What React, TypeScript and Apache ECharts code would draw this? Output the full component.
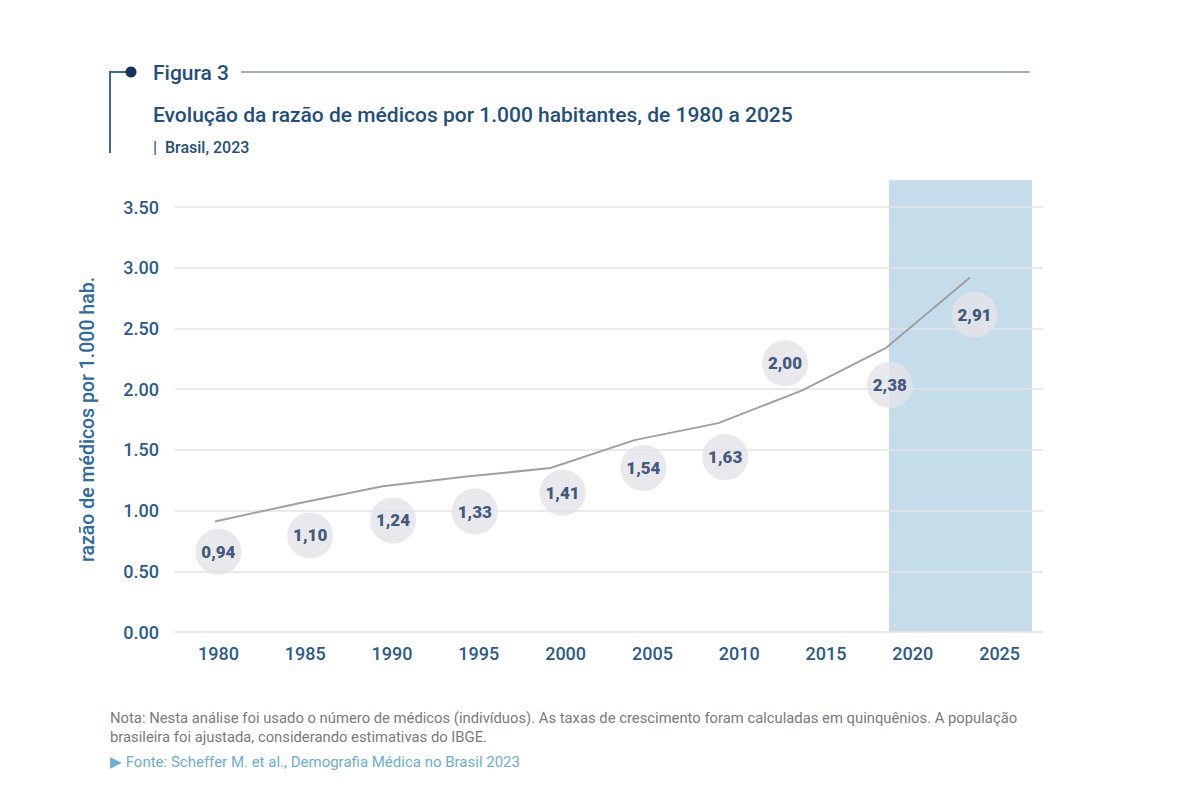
import React, { useEffect, useRef } from "react";
import * as echarts from "echarts";

const years = ["1980", "1985", "1990", "1995", "2000", "2005", "2010", "2015", "2020", "2025"];
// values printed in the bubbles
const ratios = [0.94, 1.1, 1.24, 1.33, 1.41, 1.54, 1.63, 2.0, 2.38, 2.91];
// values where the grey trend line is drawn in the figure
const lineValues = [0.91, 1.06, 1.2, 1.28, 1.35, 1.58, 1.72, 1.99, 2.34, 2.92];
const yTicks = [0, 0.5, 1, 1.5, 2, 2.5, 3, 3.5];
const projectionSpan = [2020.17, 2028.69, 3.72];

// label-bubble placement (pixel offsets from the data point), a layout detail
const bubbleOffsets: [number, number][] = [
  [0, 34], [5, 37], [1, 39], [-4, 41], [-3, 32], [-9, 23], [-14, 23], [-41, -26], [-23, 42], [-25, 36],
];

const FONT = "Roboto";
const NAVY = "#14335f";
const BLUE = "#2a5b8c";

export default function App() {
  const ref = useRef<HTMLDivElement>(null);
  useEffect(() => {
    document.body.style.margin = "0";
    const chart = echarts.init(ref.current!, null, { renderer: "svg" });
    const option: any = {
      animation: false,
      backgroundColor: "#ffffff",
      textStyle: { fontFamily: FONT },
      grid: { left: 175, right: 157, top: 207, bottom: 168, containLabel: false },
      xAxis: [
        {
          type: "category",
          data: years,
          boundaryGap: true,
          axisLine: { show: false },
          axisTick: { show: false },
          axisLabel: { color: BLUE, fontSize: 18, fontWeight: 500, margin: 12, fontFamily: FONT },
        },
        {
          type: "value",
          min: 1977.62,
          max: 2029.35,
          show: false,
          splitLine: { show: false },
        },
      ],
      yAxis: {
        type: "value",
        min: 0,
        max: 3.5,
        interval: 0.5,
        name: "razão de médicos por 1.000 hab.",
        nameLocation: "middle",
        nameGap: 78,
        nameTextStyle: { color: "#2c6aa0", fontSize: 19.5, fontWeight: 500, fontFamily: FONT },
        axisLine: { show: false },
        axisTick: { show: false },
        axisLabel: {
          color: BLUE,
          fontSize: 18,
          fontWeight: 500,
          margin: 16,
          fontFamily: FONT,
          formatter: (v: number) => (yTicks.includes(v) ? v.toFixed(2) : ""),
        },
        splitLine: { lineStyle: { color: "#e3e3e3", width: 1.5 } },
      },
      series: [
        {
          type: "custom",
          xAxisIndex: 1,
          z: -1,
          silent: true,
          data: [projectionSpan],
          renderItem: (params: any, api: any) => {
            const p0 = api.coord([api.value(0), api.value(2)]);
            const p1 = api.coord([api.value(1), 0]);
            return {
              type: "rect",
              shape: { x: p0[0], y: p0[1], width: p1[0] - p0[0], height: p1[1] - p0[1] },
              style: { fill: "#c5dcea" },
            };
          },
        },
        {
          type: "line",
          xAxisIndex: 1,
          data: years.map((y, i) => [Number(y), lineValues[i]]),
          symbol: "none",
          lineStyle: { color: "#a0a0a0", width: 2 },
          z: 3,
        },
        {
          type: "scatter",
          xAxisIndex: 0,
          data: ratios.map((v, i) => ({ value: v, symbolOffset: bubbleOffsets[i] })),
          symbol: "circle",
          symbolSize: 46,
          itemStyle: { color: "#e3e4e9" },
          label: {
            show: true,
            position: "inside",
            formatter: (p: any) => p.value.toFixed(2).replace(".", ","),
            color: NAVY,
            fontSize: 17,
            fontWeight: 900,
            fontFamily: FONT,
          },
          z: 4,
        },
      ],
      graphic: [
        { type: "line", shape: { x1: 110, y1: 72, x2: 110, y2: 153 }, style: { stroke: "#3a6a8e", lineWidth: 2 } },
        { type: "line", shape: { x1: 109, y1: 72, x2: 130, y2: 72 }, style: { stroke: "#3a6a8e", lineWidth: 2 } },
        { type: "circle", shape: { cx: 131, cy: 72, r: 5.5 }, style: { fill: NAVY } },
        { type: "line", shape: { x1: 241, y1: 72, x2: 1030, y2: 72 }, style: { stroke: "#3a6a8e", lineWidth: 1.2 } },
        {
          type: "text", x: 153, y: 73,
          style: { text: "Figura 3", fill: "#1f4f7e", fontSize: 21, fontWeight: 500, fontFamily: FONT, verticalAlign: "middle" },
        },
        {
          type: "text", x: 153, y: 115,
          style: {
            text: "Evolução da razão de médicos por 1.000 habitantes, de 1980 a 2025",
            fill: "#1f4f7e", fontSize: 21, fontWeight: 500, fontFamily: FONT, verticalAlign: "middle",
          },
        },
        {
          type: "text", x: 153, y: 147,
          style: { text: "|  Brasil, 2023", fill: "#1f4f7e", fontSize: 16, fontWeight: 500, fontFamily: FONT, verticalAlign: "middle" },
        },
        {
          type: "text", x: 110, y: 718,
          style: {
            text: "Nota: Nesta análise foi usado o número de médicos (indivíduos). As taxas de crescimento foram calculadas em quinquênios. A população",
            fill: "#7a7a7a", fontSize: 14.8, fontFamily: FONT, verticalAlign: "middle",
          },
        },
        {
          type: "text", x: 110, y: 737,
          style: {
            text: "brasileira foi ajustada, considerando estimativas do IBGE.",
            fill: "#7a7a7a", fontSize: 14.8, fontFamily: FONT, verticalAlign: "middle",
          },
        },
        {
          type: "text", x: 110, y: 762,
          style: {
            text: "▶ Fonte: Scheffer M. et al., Demografia Médica no Brasil 2023",
            fill: "#6aaed2", fontSize: 15, fontFamily: FONT, verticalAlign: "middle",
          },
        },
      ],
    };
    chart.setOption(option);
    return () => chart.dispose();
  }, []);
  return <div ref={ref} style={{ width: 1200, height: 800 }} />;
}
